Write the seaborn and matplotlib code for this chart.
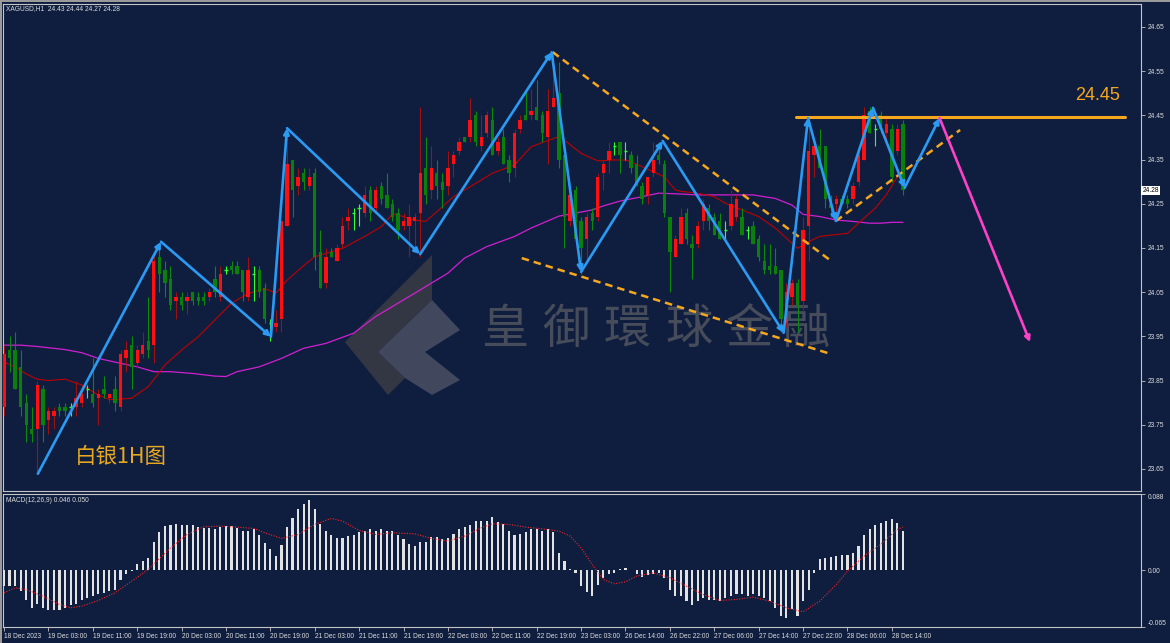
import numpy as np
import pandas as pd
import matplotlib
matplotlib.use("Agg")
import matplotlib.pyplot as plt
import seaborn as sns
from matplotlib.patches import Rectangle, Polygon
import matplotlib.transforms as mtrans

# ---------------- data ----------------
opens = [23.79, 23.92, 23.92, 23.88, 23.80, 23.74, 23.74, 23.83, 23.76, 23.77,
         23.79, 23.79, 23.79, 23.79, 23.80, 23.83, 23.82, 23.81, 23.83, 23.81,
         23.83, 23.79, 23.90, 23.93, 23.89, 23.91, 23.94, 23.93, 24.13, 24.10,
         24.08, 24.03, 24.04, 24.03, 24.05, 24.04, 24.04, 24.04, 24.08, 24.04,
         24.10, 24.11, 24.11, 24.10, 24.04, 24.09, 24.10, 24.06, 23.98, 23.97,
         23.99, 24.20, 24.35, 24.29, 24.32, 24.29, 24.32, 24.14, 24.07, 24.14,
         24.12, 24.16, 24.21, 24.23, 24.24, 24.23, 24.28, 24.24, 24.29, 24.27,
         24.25, 24.23, 24.20, 24.20, 24.21, 24.23, 24.33, 24.28, 24.32, 24.30,
         24.29, 24.34, 24.37, 24.40, 24.40, 24.45, 24.38, 24.41, 24.44, 24.37,
         24.40, 24.35, 24.33, 24.42, 24.45, 24.45, 24.47, 24.45, 24.40, 24.47,
         24.50, 24.36, 24.21, 24.28, 24.21, 24.17, 24.23, 24.22, 24.32, 24.35,
         24.38, 24.39, 24.37, 24.36, 24.34, 24.29, 24.27, 24.32, 24.36, 24.34,
         24.22, 24.13, 24.16, 24.23, 24.16, 24.16, 24.21, 24.24, 24.22, 24.21,
         24.19, 24.20, 24.22, 24.22, 24.19, 24.20, 24.17, 24.12, 24.11, 24.11,
         24.10, 23.98, 24.04, 24.07, 24.03, 24.20, 24.36, 24.38, 24.38, 24.25,
         24.25, 24.26, 24.26, 24.26, 24.30, 24.35, 24.46, 24.42, 24.45, 24.41,
         24.42, 24.37, 24.43]
highs = [23.93, 23.95, 23.96, 23.92, 23.82, 23.79, 23.85, 23.84, 23.79, 23.79,
         23.80, 23.80, 23.80, 23.85, 23.84, 23.84, 23.90, 23.83, 23.86, 23.82,
         23.86, 23.92, 23.94, 23.95, 23.93, 23.96, 24.04, 24.14, 24.16, 24.12,
         24.11, 24.05, 24.05, 24.05, 24.05, 24.05, 24.05, 24.06, 24.11, 24.11,
         24.11, 24.12, 24.12, 24.10, 24.13, 24.11, 24.11, 24.07, 23.99, 24.01,
         24.21, 24.42, 24.35, 24.33, 24.33, 24.33, 24.33, 24.19, 24.15, 24.15,
         24.16, 24.22, 24.24, 24.24, 24.25, 24.29, 24.29, 24.29, 24.30, 24.32,
         24.26, 24.24, 24.23, 24.25, 24.23, 24.47, 24.40, 24.38, 24.35, 24.32,
         24.37, 24.37, 24.40, 24.40, 24.49, 24.46, 24.45, 24.46, 24.47, 24.40,
         24.42, 24.36, 24.42, 24.45, 24.51, 24.51, 24.53, 24.46, 24.51, 24.59,
         24.57, 24.36, 24.28, 24.29, 24.22, 24.23, 24.24, 24.32, 24.35, 24.39,
         24.39, 24.39, 24.39, 24.37, 24.36, 24.30, 24.31, 24.39, 24.39, 24.35,
         24.22, 24.18, 24.24, 24.24, 24.18, 24.21, 24.26, 24.25, 24.23, 24.23,
         24.21, 24.28, 24.27, 24.24, 24.20, 24.21, 24.18, 24.16, 24.16, 24.15,
         24.10, 24.07, 24.08, 24.08, 24.22, 24.44, 24.39, 24.42, 24.38, 24.27,
         24.27, 24.27, 24.27, 24.30, 24.37, 24.47, 24.47, 24.43, 24.46, 24.45,
         24.43, 24.43, 24.44]
lows = [23.77, 23.87, 23.83, 23.77, 23.71, 23.71, 23.64, 23.71, 23.73, 23.74,
        23.77, 23.77, 23.77, 23.77, 23.79, 23.81, 23.79, 23.75, 23.81, 23.80,
        23.78, 23.78, 23.87, 23.83, 23.88, 23.90, 23.90, 23.89, 24.05, 24.04,
        24.01, 23.99, 24.01, 24.00, 24.02, 24.02, 24.02, 24.03, 24.04, 24.03,
        24.09, 24.09, 24.09, 24.03, 24.03, 24.03, 24.04, 23.98, 23.94, 23.96,
        23.96, 24.20, 24.22, 24.27, 24.28, 24.28, 24.10, 24.06, 24.06, 24.13,
        24.12, 24.15, 24.19, 24.19, 24.20, 24.22, 24.21, 24.23, 24.25, 24.24,
        24.21, 24.17, 24.19, 24.13, 24.14, 24.13, 24.25, 24.26, 24.26, 24.24,
        24.27, 24.31, 24.36, 24.39, 24.39, 24.38, 24.37, 24.40, 24.36, 24.36,
        24.34, 24.30, 24.31, 24.41, 24.44, 24.44, 24.44, 24.39, 24.34, 24.47,
        24.33, 24.15, 24.20, 24.17, 24.09, 24.12, 24.19, 24.21, 24.28, 24.32,
        24.36, 24.32, 24.35, 24.32, 24.29, 24.25, 24.25, 24.31, 24.34, 24.22,
        24.05, 24.13, 24.16, 24.16, 24.08, 24.15, 24.19, 24.19, 24.18, 24.17,
        24.17, 24.19, 24.21, 24.18, 24.17, 24.16, 24.12, 24.09, 24.09, 24.09,
        23.96, 23.97, 24.02, 23.96, 24.01, 24.12, 24.31, 24.33, 24.24, 24.22,
        24.22, 24.25, 24.24, 24.25, 24.29, 24.35, 24.41, 24.38, 24.41, 24.39,
        24.30, 24.36, 24.27]
closes = [23.91, 23.90, 23.83, 23.79, 23.75, 23.73, 23.84, 23.75, 23.78, 23.78,
          23.78, 23.78, 23.79, 23.81, 23.82, 23.83, 23.80, 23.82, 23.82, 23.82,
          23.80, 23.91, 23.92, 23.88, 23.92, 23.93, 23.92, 24.12, 24.09, 24.07,
          24.02, 24.04, 24.02, 24.04, 24.03, 24.03, 24.03, 24.05, 24.05, 24.09,
          24.10, 24.10, 24.09, 24.05, 24.10, 24.09, 24.05, 23.99, 23.98, 23.98,
          24.21, 24.34, 24.28, 24.31, 24.30, 24.31, 24.13, 24.06, 24.13, 24.13,
          24.15, 24.20, 24.22, 24.23, 24.24, 24.27, 24.23, 24.28, 24.26, 24.24,
          24.22, 24.19, 24.21, 24.22, 24.22, 24.32, 24.27, 24.33, 24.29, 24.28,
          24.33, 24.36, 24.39, 24.39, 24.44, 24.39, 24.40, 24.45, 24.36, 24.39,
          24.34, 24.32, 24.41, 24.44, 24.44, 24.46, 24.44, 24.41, 24.46, 24.49,
          24.35, 24.22, 24.27, 24.17, 24.15, 24.22, 24.21, 24.31, 24.34, 24.37,
          24.38, 24.36, 24.37, 24.33, 24.29, 24.26, 24.31, 24.35, 24.35, 24.23,
          24.14, 24.17, 24.22, 24.17, 24.15, 24.20, 24.25, 24.21, 24.18, 24.17,
          24.19, 24.25, 24.26, 24.18, 24.19, 24.16, 24.13, 24.10, 24.10, 24.09,
          23.99, 24.05, 24.07, 24.02, 24.19, 24.37, 24.38, 24.33, 24.26, 24.24,
          24.26, 24.25, 24.25, 24.29, 24.36, 24.45, 24.41, 24.42, 24.42, 24.43,
          24.31, 24.42, 24.28]

# moving averages read at sample bars
red_ma_bar = [0, 2, 4, 6, 8, 11, 14, 17, 19, 20, 23, 26, 29, 32, 35, 38, 41, 44, 47, 49,
              51, 54, 56, 61, 65, 68, 70, 72, 74, 76, 78, 81, 85, 88, 92, 95, 100, 101,
              104, 107, 110, 112, 115, 119, 121, 122, 125, 128, 130, 133, 136, 139, 141,
              143, 145, 147, 149, 152, 154, 157, 159, 161, 162]
red_ma_val = [23.892, 23.880, 23.865, 23.853, 23.850, 23.853, 23.840, 23.817, 23.807, 23.807,
              23.810, 23.836, 23.885, 23.919, 23.949, 23.987, 24.025, 24.047, 24.058, 24.048,
              24.077, 24.110, 24.130, 24.149, 24.176, 24.198, 24.227, 24.221, 24.213, 24.210,
              24.232, 24.266, 24.296, 24.319, 24.338, 24.379, 24.402, 24.394, 24.364, 24.347,
              24.349, 24.349, 24.334, 24.311, 24.281, 24.278, 24.274, 24.266, 24.251, 24.236,
              24.221, 24.195, 24.172, 24.149, 24.164, 24.176, 24.179, 24.183, 24.206, 24.240,
              24.270, 24.311, 24.327]
mag_ma_bar = [0, 3, 6, 11, 14, 17, 21, 24, 27, 30, 34, 38, 40, 42, 46, 50, 54, 58, 63, 67,
              71, 75, 80, 83, 87, 92, 95, 100, 103, 106, 108, 111, 115, 118, 122, 125, 131,
              135, 139, 142, 144, 147, 150, 153, 156, 158, 160, 162]
mag_ma_val = [23.930, 23.930, 23.927, 23.920, 23.913, 23.900, 23.889, 23.881, 23.870, 23.870,
              23.866, 23.860, 23.859, 23.870, 23.881, 23.900, 23.923, 23.934, 23.957, 23.995,
              24.025, 24.055, 24.093, 24.127, 24.153, 24.176, 24.195, 24.222, 24.229, 24.236,
              24.245, 24.256, 24.266, 24.274, 24.272, 24.270, 24.270, 24.270, 24.262, 24.247,
              24.226, 24.221, 24.213, 24.210, 24.206, 24.206, 24.208, 24.208]

# MACD histogram (one per bar) and signal line
macd_hist = [-0.0180, -0.0180, -0.0180, -0.0238, -0.0345, -0.0430, -0.0391, -0.0430, -0.0460, -0.0460,
             -0.0460, -0.0430, -0.0399, -0.0391, -0.0345, -0.0314, -0.0295, -0.0276, -0.0257, -0.0238,
             -0.0219, -0.0115, -0.0038, -0.0008,
             0.0069, 0.0107, 0.0146, 0.0330, 0.0445, 0.0510, 0.0522, 0.0537, 0.0529, 0.0529,
             0.0522, 0.0499, 0.0491, 0.0491, 0.0472, 0.0499, 0.0510, 0.0510, 0.0491, 0.0460,
             0.0460, 0.0472, 0.0414, 0.0318, 0.0242, 0.0165, 0.0299, 0.0499, 0.0599, 0.0702,
             0.0760, 0.0806, 0.0702, 0.0537, 0.0453, 0.0407, 0.0376, 0.0376, 0.0395, 0.0407,
             0.0445, 0.0460, 0.0472, 0.0460, 0.0472, 0.0453, 0.0453, 0.0414, 0.0357, 0.0307,
             0.0280, 0.0330, 0.0330, 0.0384, 0.0384, 0.0368, 0.0376, 0.0422, 0.0472, 0.0499,
             0.0522, 0.0575, 0.0575, 0.0575, 0.0614, 0.0560, 0.0537, 0.0453, 0.0414, 0.0422,
             0.0445, 0.0472, 0.0483, 0.0460, 0.0483, 0.0445, 0.0203, 0.0107, 0.0020,
             -0.0030, -0.0180, -0.0245, -0.0295, -0.0168, -0.0092, -0.0046, -0.0030, 0.0015, 0.0023,
             0.0010, -0.0046, -0.0076, -0.0057, -0.0046, -0.0030, -0.0084, -0.0219, -0.0295, -0.0295,
             -0.0353, -0.0402, -0.0353, -0.0314, -0.0345, -0.0345, -0.0353, -0.0322, -0.0295, -0.0276,
             -0.0276, -0.0295, -0.0276, -0.0295, -0.0322, -0.0353, -0.0430, -0.0525, -0.0544, -0.0448,
             -0.0525, -0.0353, -0.0219, -0.0030,
             0.0127, 0.0146, 0.0154, 0.0165, 0.0177, 0.0177, 0.0203, 0.0280, 0.0414, 0.0472,
             0.0522, 0.0549, 0.0568, 0.0587, 0.0549, 0.0460]
signal_bar = [0, 2, 4, 7, 10, 12, 14, 17, 20, 23, 26, 30, 33, 36, 39, 42, 45, 47, 50, 53,
              56, 59, 61, 64, 67, 70, 74, 77, 80, 83, 86, 88, 91, 94, 98, 100, 102, 104,
              106, 108, 110, 112, 114, 117, 120, 123, 126, 129, 132, 135, 138, 141, 144,
              147, 150, 152, 155, 158, 161, 162]
signal_val = [-0.0257, -0.0199, -0.0219, -0.0295, -0.0391, -0.0430, -0.0410, -0.0345, -0.0257, -0.0123,
              0.0012, 0.0261, 0.0415, 0.0503, 0.0511, 0.0499, 0.0484, 0.0434, 0.0369, 0.0415,
              0.0530, 0.0599, 0.0568, 0.0461, 0.0415, 0.0434, 0.0422, 0.0369, 0.0338, 0.0396,
              0.0491, 0.0537, 0.0530, 0.0499, 0.0472, 0.0453, 0.0396, 0.0261, 0.0069, -0.0103,
              -0.0153, -0.0130, -0.0065, -0.0026, -0.0084, -0.0180, -0.0276, -0.0345, -0.0333, -0.0306,
              -0.0353, -0.0430, -0.0475, -0.0353, -0.0161, -0.0007, 0.0165, 0.0300, 0.0472, 0.0500]

time_labels = ["18 Dec 2023", "19 Dec 03:00", "19 Dec 11:00", "19 Dec 19:00", "20 Dec 03:00",
               "20 Dec 11:00", "20 Dec 19:00", "21 Dec 03:00", "21 Dec 11:00", "21 Dec 19:00",
               "22 Dec 03:00", "22 Dec 11:00", "22 Dec 19:00", "23 Dec 03:00", "26 Dec 14:00",
               "26 Dec 22:00", "27 Dec 06:00", "27 Dec 14:00", "27 Dec 22:00", "28 Dec 06:00",
               "28 Dec 14:00"]
price_ticks = [23.65, 23.75, 23.85, 23.95, 24.05, 24.15, 24.25, 24.35, 24.45, 24.55, 24.65]
macd_ticks = [0.088, 0.0, -0.065]
macd_tick_labels = ["0.088", "0.00", "-0.065"]

# drawn analysis
zig_bar = [6.1, 28.3, 48.1, 51.0, 75.0, 98.7, 104.0, 118.7, 140.5, 144.9, 149.9, 156.6, 162.3, 168.6]
zig_price = [23.639, 24.164, 23.949, 24.421, 24.136, 24.593, 24.096, 24.392, 23.958, 24.444,
             24.211, 24.467, 24.286, 24.444]
forecast_bar = [168.6, 184.9]
forecast_price = [24.444, 23.937]
resist_level = 24.446
resist_bar = [142.7, 202.0]
dash_lines = [((98.9, 24.593), (148.8, 24.123)),
              ((93.3, 24.127), (148.5, 23.912)),
              ((149.9, 24.211), (172.3, 24.417))]
last_price = 24.28

# ---------------- styling ----------------
sns.set_theme(style="dark")
plt.rcParams['font.family'] = ['Liberation Sans', 'DejaVu Sans']
NAVY = '#0f1e3f'
SPINE = '#c4c4c4'
TXT = '#dcdcdc'
SMALL = 4.8

W, H = 1170, 643
fig = plt.figure(figsize=(W / 100, H / 100), dpi=100, facecolor=NAVY)

def fbox(x0, y0, x1, y1):
    return [x0 / W, 1 - y1 / H, (x1 - x0) / W, (y1 - y0) / H]

ax1 = fig.add_axes(fbox(3, 4, 1141, 491))
ax2 = fig.add_axes(fbox(3, 494, 1141, 627))
for ax in (ax1, ax2):
    ax.set_facecolor(NAVY)
    ax.grid(False)
    for s in ax.spines.values():
        s.set_color(SPINE)
        s.set_linewidth(0.8)
        s.set_visible(True)

n = len(opens)
xs = np.arange(n)
XL = (-0.18, 204.9)

# watermark (behind everything)
def px2ax(px, py):
    return ((px - 3) / 1138, (491 - py) / 487)

logo_dark = [px2ax(*p) for p in [(345, 342), (432, 255), (432, 300), (378, 352), (405, 378), (388, 395)]]
logo_light = [px2ax(*p) for p in [(378, 352), (432, 300), (460, 330), (425, 352), (460, 380), (432, 395), (405, 378)]]
ax1.add_patch(Polygon(logo_dark, closed=True, transform=ax1.transAxes, fc='#3a3c44', ec='none', alpha=0.85, zorder=0.5))
ax1.add_patch(Polygon(logo_light, closed=True, transform=ax1.transAxes, fc='#4a5064', ec='none', alpha=0.85, zorder=0.5))
for ch, cx in zip("皇御環球金融", [505, 566, 627, 689, 749, 806]):
    tx, ty = px2ax(cx, 330)
    ax1.text(tx, ty, ch, transform=ax1.transAxes, ha='center', va='center', fontsize=34,
             color='#474c5b', family=['Noto Sans CJK TC', 'Noto Sans CJK SC'], zorder=0.6)

# moving averages
sns.lineplot(x=mag_ma_bar, y=mag_ma_val, ax=ax1, color='#d020d0', linewidth=0.9, estimator=None, zorder=2)
sns.lineplot(x=red_ma_bar, y=red_ma_val, ax=ax1, color='#c00000', linewidth=0.8, estimator=None, zorder=2)

# candles
o = np.array(opens); h = np.array(highs); l = np.array(lows); c = np.array(closes)
up = c > o
dn = c < o
dj = c == o
ax1.vlines(xs[up], l[up], h[up], color='#a01010', linewidth=0.8, zorder=3)
ax1.vlines(xs[dn], l[dn], h[dn], color='#0a8a0a', linewidth=0.8, zorder=3)
ax1.vlines(xs[dj], l[dj], h[dj], color='#30ff30', linewidth=0.8, zorder=3)
ax1.bar(xs[up], (c - o)[up], bottom=o[up], width=0.6, color='#ff1010', linewidth=0, zorder=4)
ax1.bar(xs[dn], (o - c)[dn], bottom=c[dn], width=0.6, color='#0a7f0a', linewidth=0, zorder=4)
ax1.hlines(o[dj], xs[dj] - 0.3, xs[dj] + 0.3, color='#30ff30', linewidth=1.0, zorder=4)

# zigzag arrows
BLUE = '#2b9af3'
for i in range(len(zig_bar) - 1):
    ax1.annotate('', xy=(zig_bar[i + 1], zig_price[i + 1]), xytext=(zig_bar[i], zig_price[i]),
                 arrowprops=dict(arrowstyle='-|>', color=BLUE, lw=1.9, mutation_scale=8,
                                 shrinkA=0, shrinkB=0), zorder=6)
ax1.annotate('', xy=(forecast_bar[1], forecast_price[1]), xytext=(forecast_bar[0], forecast_price[0]),
             arrowprops=dict(arrowstyle='-|>', color='#ff40c8', lw=1.9, mutation_scale=8,
                             shrinkA=0, shrinkB=0), zorder=6)

# orange lines
ORANGE = '#f5a71e'
ax1.plot(resist_bar, [resist_level, resist_level], color=ORANGE, lw=2.2, zorder=5)
for (x0, y0), (x1, y1) in dash_lines:
    ax1.plot([x0, x1], [y0, y1], color=ORANGE, lw=1.8, ls=(0, (3, 2)), zorder=5)

ax1.text(193, resist_level + 0.048, "24.45", color=ORANGE, fontsize=13, ha='left', va='center', zorder=7)
ax1.text(12.8, 23.677, "白银1H图", color='#e8a820', fontsize=15.5, ha='left', va='center',
         family=['Noto Sans CJK SC', 'DejaVu Sans'], zorder=7)

ax1.set_xlim(*XL)
ax1.set_ylim(23.600, 24.702)
ax1.set_xticks([])
ax1.set_xlabel('')
ax1.set_ylabel('')
ax1.yaxis.tick_right()
ax1.set_yticks(price_ticks)
ax1.set_yticklabels([f"{v:.2f}" for v in price_ticks])
ax1.tick_params(axis='y', direction='out', length=3, width=0.6, colors=SPINE, labelcolor=TXT,
                labelsize=SMALL, pad=2, right=True, left=False)

# last price box
trans = mtrans.blended_transform_factory(ax1.transAxes, ax1.transData)
ax1.text(1.0 + 1.5 / 1138, last_price, "24.28", transform=trans, fontsize=SMALL, color='black',
         ha='left', va='center', bbox=dict(fc='white', ec='none', pad=0.8), zorder=8, clip_on=False)

# MACD panel
ax2.bar(xs, macd_hist, width=0.38, color='#e2e2e2', linewidth=0, zorder=3)
sns.lineplot(x=signal_bar, y=signal_val, ax=ax2, color='#ff2020', linewidth=0.8, estimator=None,
             zorder=4)
ax2.lines[-1].set_linestyle((0, (1, 1.4)))
ax2.set_xlim(*XL)
ax2.set_ylim(-0.065, 0.088)
ax2.set_xlabel('')
ax2.set_ylabel('')
ax2.yaxis.tick_right()
ax2.set_yticks(macd_ticks)
ax2.set_yticklabels(macd_tick_labels)
ax2.tick_params(axis='y', direction='out', length=3, width=0.6, colors=SPINE, labelcolor=TXT,
                labelsize=SMALL, pad=2, right=True, left=False)
yl = ax2.get_yticklabels()
yl[0].set_va('top')
yl[2].set_va('bottom')
ax2.set_xticks(np.arange(0, 8 * len(time_labels), 8))
ax2.set_xticklabels(time_labels)
ax2.tick_params(axis='x', direction='out', length=3, width=0.6, colors=SPINE, labelcolor=TXT,
                labelsize=SMALL, pad=1.5, bottom=True)
for lb in ax2.get_xticklabels():
    lb.set_ha('left')

# header texts
fig.text(6 / W, 1 - 9 / H, "XAGUSD,H1  24.43 24.44 24.27 24.28", fontsize=SMALL, color=TXT,
         ha='left', va='center')
fig.text(6 / W, 1 - 500 / H, "MACD(12,26,9) 0.046 0.050", fontsize=SMALL, color=TXT,
         ha='left', va='center')

# window frame
fig.patches.append(Rectangle((0, 0), 2 / W, 1, transform=fig.transFigure, fc='#9a9a9a', ec='none'))
fig.patches.append(Rectangle((0, 1 - 2 / H), 1, 2 / H, transform=fig.transFigure, fc='#9a9a9a', ec='none'))

fig.savefig("out.png", dpi=100, facecolor=NAVY)
